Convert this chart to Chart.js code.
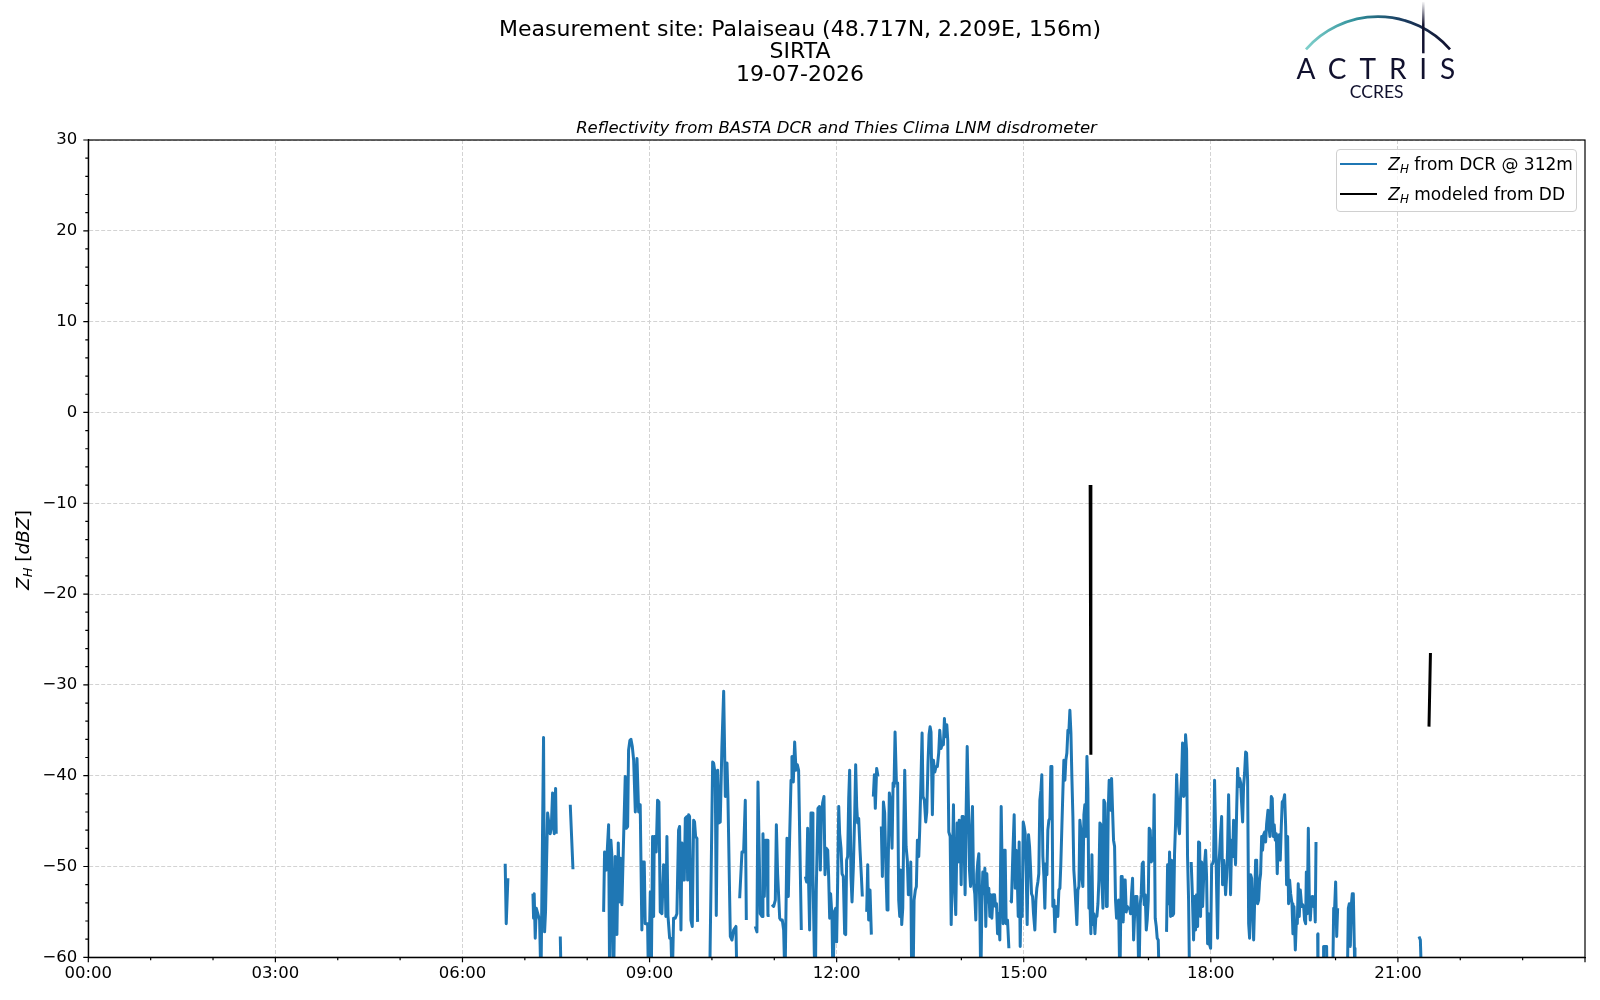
<!DOCTYPE html>
<html>
<head>
<meta charset="utf-8">
<script src="https://cdn.jsdelivr.net/npm/chart.js@4.4.1/dist/chart.umd.min.js"></script>
<style>
    html, body { margin: 0; padding: 0; background: #fff; }
    #page { position: relative; width: 1600px; height: 1000px; overflow: hidden; font-family: 'DejaVu Sans', sans-serif; color: #000; }
    #chart { position: absolute; left: 0; top: 0; }
    .abs { position: absolute; white-space: nowrap; }
    .suptitle { left: 0; width: 1600px; top: 17.7px; text-align: center; font-size: 22px; line-height: 22.7px; }
    .subtitle { left: 0; width: 1673px; top: 117.6px; text-align: center; font-size: 16.5px; line-height: 20px; font-style: italic; }
    .legend { box-sizing: border-box; left: 1336px; top: 149px; width: 241px; height: 63px; border: 1px solid #d0d0d0; border-radius: 4px; background: rgba(255,255,255,0.8); }
    .legend .swatch { position: absolute; left: 3px; width: 36.7px; height: 2.8px; }
    .legend .label { position: absolute; left: 51.3px; font-size: 17px; line-height: 20px; }
    .mi { font-style: italic; }
    .sub { font-style: italic; font-size: 0.7em; position: relative; top: 0.25em; }
    .ylabel { left: -76.5px; top: 539px; width: 200px; text-align: center; font-size: 18.5px; line-height: 20px; transform: rotate(-90deg); }
    .actris { left: 1296.5px; top: 54px; font-family: Lato, 'DejaVu Sans', sans-serif; font-size: 28px; line-height: 28px; letter-spacing: 12.9px; color: #11112e; }
    .ccres { left: 1326.7px; width: 100px; top: 82px; text-align: center; font-family: Lato, 'DejaVu Sans', sans-serif; font-size: 17.5px; line-height: 20px; color: #11112e; }
</style>
</head>
<body>
<div id="page">
    <canvas id="chart" width="1600" height="1000"></canvas>

    <div class="abs suptitle">Measurement site: Palaiseau (48.717N, 2.209E, 156m)<br>SIRTA<br>19-07-2026</div>
    <div class="abs subtitle">Reflectivity from BASTA DCR and Thies Clima LNM disdrometer</div>
    <div class="abs ylabel"><span class="mi">Z</span><span class="sub">H</span> [<span class="mi">dBZ</span>]</div>

    <div class="abs legend">
        <div class="swatch" style="top:12.6px; background:#1f77b4;"></div>
        <div class="label" style="top:4.3px;"><span class="mi">Z</span><span class="sub">H</span> from DCR @ 312m</div>
        <div class="swatch" style="top:42.6px; background:#000;"></div>
        <div class="label" style="top:34.4px;"><span class="mi">Z</span><span class="sub">H</span> modeled from DD</div>
    </div>

    <svg class="abs" style="left:0; top:0;" width="1600" height="110">
        <defs>
            <linearGradient id="arcGrad" x1="1306" y1="0" x2="1450" y2="0" gradientUnits="userSpaceOnUse">
                <stop offset="0" stop-color="#7fd0cb"/>
                <stop offset="0.35" stop-color="#2f8f9a"/>
                <stop offset="0.65" stop-color="#1b3f63"/>
                <stop offset="1" stop-color="#12122f"/>
            </linearGradient>
            <linearGradient id="barGrad" x1="0" y1="1" x2="0" y2="54" gradientUnits="userSpaceOnUse">
                <stop offset="0" stop-color="#ffffff"/>
                <stop offset="0.45" stop-color="#12122f"/>
                <stop offset="1" stop-color="#12122f"/>
            </linearGradient>
        </defs>
        <path d="M 1306 49.3 A 95.8 95.8 0 0 1 1450 49.3" fill="none" stroke="url(#arcGrad)" stroke-width="2.7"/>
        <line x1="1423.3" y1="1.7" x2="1423.3" y2="53.3" stroke="url(#barGrad)" stroke-width="2.5"/>
    </svg>
    <div class="abs actris">ACTRIS</div>
    <div class="abs ccres">CCRES</div>
</div>

<script>
// ===== Data (time in minutes since 00:00 UTC, reflectivity in dBZ) =====
// null marks a gap in the record

const xTickMinutes = [0, 180, 360, 540, 720, 900, 1080, 1260];
const yTickValues = [-60, -50, -40, -30, -20, -10, 0, 10, 20, 30];

// Z_H from BASTA DCR @ 312 m
const dcrSeries = [
    [401.1, -49.7], [402.1, -56.3], [403.7, -51.3], null,
    [427.8, -53.0], [428.4, -55.7], [429.0, -53.0], [430.0, -57.9], [431.0, -54.6], [434.2, -55.9], [435.5, -63],
    [438.0, -35.8], [439.0, -57.2], [439.9, -55.0], [441.9, -44.1], [443.5, -45.6], [444.4, -46.4], [445.4, -45.8],
    [446.7, -41.9], [448.3, -46.4], [449.6, -41.4], [450.2, -46.4], null,
    [454.1, -57.7], [455.0, -63], null,
    [463.7, -43.2], [466.3, -50.3], null,
    [495.8, -55.0], [496.7, -48.4], [498.3, -50.4], [500.6, -45.4], [501.6, -63], [502.8, -47.1], [503.8, -48.9],
    [505.4, -63], [507.0, -48.9], [508.6, -57.5], [509.9, -47.4], [511.2, -53.9], [512.1, -49.1], [513.4, -54.2],
    [514.4, -49.7], [515.4, -45.2], [516.6, -40.1], [517.6, -45.8], [518.9, -45.6], [519.8, -37.2], [521.1, -36.1],
    [522.1, -36.0], [523.4, -36.8], [524.7, -38.3], [526.3, -44.0], [527.9, -38.1], [529.5, -44.0], [531.0, -43.2],
    [532.6, -57.0], [533.6, -49.5], [534.9, -49.5], [535.8, -56.3], [538.1, -56.3], [539.0, -63], [540.7, -52.8],
    [541.6, -63], [542.9, -46.7], [543.9, -55.5], [544.5, -46.7], [545.8, -46.7], [546.4, -48.4], [547.7, -42.7],
    [549.0, -42.9], [550.3, -55.0], [551.9, -55.2], [553.5, -49.8], [554.8, -50.0], [555.7, -55.5], [556.7, -46.7],
    [557.7, -55.4], [559.3, -57.9], [560.6, -57.9], [561.8, -63], [563.1, -55.7], [564.7, -55.7], [566.3, -55.2],
    [567.9, -46.0], [568.9, -45.6], [570.2, -57.0], [571.1, -47.4], [572.1, -51.5], [573.4, -51.5], [574.4, -44.7],
    [576.0, -44.5], [576.6, -51.5], [577.6, -44.3], [578.5, -44.5], [579.8, -55.9], [581.1, -56.6], [582.4, -44.9],
    [583.3, -45.1], [584.3, -46.7], [585.6, -46.9], [586.2, -56.1], null,
    [597.8, -63], [600.7, -38.5], [601.6, -38.6], [603.2, -39.9], [604.2, -55.4], [605.5, -39.4], [606.8, -45.2],
    [608.0, -45.1], [609.6, -36.8], [611.3, -30.7], [612.9, -42.3], [614.5, -38.6], [615.4, -42.3], [617.7, -57.7],
    [619.3, -58.1], [620.9, -57.0], [623.1, -56.6], [624.1, -63], null,
    [626.7, -53.5], [628.9, -48.4], [630.5, -48.4], [632.1, -42.7], [633.1, -55.9], null,
    [641.7, -56.6], [643.3, -57.2], [644.3, -40.7], [646.5, -55.2], [648.2, -55.5], [649.1, -46.4], [650.4, -53.3],
    [651.7, -47.1], [653.0, -47.1], [653.9, -55.4], [655.5, -55.4], null,
    [657.8, -54.2], [659.4, -54.4], [661.0, -53.7], [662.0, -45.4], [663.2, -50.8], [665.2, -55.7], [666.4, -55.9],
    [667.7, -55.9], [669.0, -57.0], [670.3, -63], [672.2, -46.9], [673.5, -53.3], [674.8, -46.7], [676.1, -40.5],
    [677.0, -37.9], [678.3, -40.7], [679.6, -36.3], [680.9, -39.4], [682.2, -38.8], [683.4, -39.4], [684.7, -48.2],
    [686.0, -57.0], null,
    [689.9, -51.1], [691.1, -51.7], [692.1, -45.8], [693.1, -52.2], [694.0, -57.0], [695.3, -44.1], [696.3, -44.1],
    [697.2, -50.8], [698.5, -59.6], [699.5, -63], [700.4, -52.6], [702.0, -43.6], [703.3, -43.4], [704.3, -50.4],
    [705.3, -44.5], [706.5, -43.0], [707.8, -42.3], [708.8, -50.9], [710.1, -48.0], [711.4, -48.2], [712.3, -51.1],
    [713.3, -55.7], [714.2, -53.0], [715.5, -55.5], [716.5, -63], [717.8, -55.0], [719.1, -54.6], [720.0, -58.3],
    [721.0, -51.5], [722.0, -43.4], [722.9, -46.4], [724.2, -48.0], [725.2, -50.8], [726.4, -51.1], [727.7, -57.4],
    [728.7, -57.5], [729.6, -49.3], [730.6, -48.9], [731.6, -42.5], [732.5, -39.4], [733.8, -51.1], [734.8, -53.9],
    [736.1, -50.0], [737.4, -44.1], [738.3, -38.8], [739.3, -43.4], [740.2, -45.2], [741.2, -44.7], [742.5, -48.2],
    [743.8, -51.1], [744.7, -53.3], null,
    [748.9, -55.0], [749.9, -49.8], [750.8, -55.9], [752.1, -52.6], [753.4, -57.5], null,
    [755.3, -42.3], [756.3, -39.9], [757.2, -43.6], [758.5, -39.2], [759.8, -40.1], null,
    [763.0, -45.6], [764.0, -51.1], [765.0, -42.9], [766.2, -44.1], [767.5, -50.8], [768.5, -54.8], [769.4, -51.1],
    [770.7, -41.9], [772.0, -43.0], [773.3, -48.0], [774.3, -40.8], [775.2, -41.2], [776.2, -35.2], [777.5, -40.8],
    [778.7, -40.8], [779.7, -53.7], [780.7, -55.5], [781.6, -50.4], [782.6, -56.4], [783.6, -54.6], [784.5, -46.4],
    [785.5, -39.4], [786.8, -47.8], [788.0, -49.3], [789.0, -53.1], [790.3, -53.0], [791.3, -49.5], [792.2, -63],
    [793.5, -63], [794.5, -53.7], [795.7, -52.6], [796.7, -52.2], [797.7, -47.1], [799.0, -48.9], [799.9, -46.0],
    [801.2, -40.1], [802.2, -35.3], [803.1, -42.3], [804.4, -42.7], [805.7, -45.1], [806.7, -44.0], [807.9, -38.6],
    [808.9, -35.5], [809.9, -34.6], [810.8, -35.2], [812.1, -44.3], [813.1, -38.3], [814.4, -39.6], [815.6, -39.0],
    [816.9, -39.0], [818.2, -37.5], [819.2, -35.0], [820.5, -37.0], [821.7, -36.4], [822.7, -36.6], [823.7, -33.7],
    [824.6, -35.7], [826.0, -34.4], [826.9, -36.1], [827.9, -46.2], [829.2, -46.7], [830.2, -56.4], [831.4, -49.3],
    [832.4, -43.2], [833.4, -52.2], [834.6, -55.3], [835.9, -45.2], [836.9, -49.5], [837.9, -44.9], [838.8, -46.0],
    [839.8, -52.0], [840.7, -44.5], [841.7, -44.5], [842.7, -47.8], [843.6, -53.1], [844.6, -43.8], [845.6, -36.8],
    [846.8, -43.4], [847.8, -50.4], [848.8, -52.2], [849.7, -46.2], [850.7, -43.4], [851.7, -51.9], [852.9, -53.0],
    [853.9, -55.9], [854.9, -50.8], [855.8, -49.5], [856.8, -48.6], [857.8, -55.2], [858.7, -63], [859.7, -54.2],
    [860.6, -50.6], [861.6, -53.0], [862.6, -50.2], [863.5, -56.6], [864.5, -50.8], [865.5, -53.9], [866.4, -52.4],
    [867.4, -55.5], [868.3, -53.1], [869.3, -55.7], [870.6, -53.1], [871.9, -53.1], [872.8, -54.4], [873.8, -54.1],
    [874.8, -57.4], [875.7, -55.2], [877.0, -58.1], [878.3, -43.4], [879.3, -50.8], [880.2, -56.3], [881.2, -48.2],
    [882.1, -48.2], [883.1, -56.3], [884.4, -55.9], [885.7, -59.0], null,
    [887.3, -53.7], [888.2, -53.9], [889.5, -48.6], [890.8, -44.3], [891.8, -52.4], [892.7, -48.2], [893.7, -50.8],
    [894.7, -55.5], [895.6, -47.3], [896.6, -58.8], [897.5, -51.5], [898.5, -55.5], [899.5, -45.1], [900.4, -45.6],
    [901.4, -46.4], [902.4, -50.8], [903.3, -56.4], [904.6, -46.5], [905.6, -47.8], [906.5, -50.0], [907.5, -53.0],
    [908.5, -53.3], [909.4, -55.2], [910.7, -57.0], [911.7, -53.7], [912.6, -52.4], [913.6, -51.7], [914.5, -50.8],
    [915.5, -42.7], [916.5, -41.6], [917.4, -39.9], [918.4, -48.9], [919.4, -51.1], [920.3, -54.6], [921.3, -49.7],
    [922.3, -50.9], [923.2, -46.0], [924.2, -44.9], [925.1, -44.7], [926.1, -39.0], [927.1, -39.0], [928.0, -54.4],
    [929.0, -53.7], [930.0, -57.2], [930.9, -54.4], [931.9, -54.6], [932.8, -55.5], [933.8, -52.6], [934.8, -52.4],
    [935.7, -49.7], [936.7, -45.6], [937.7, -41.6], [938.6, -38.3], [939.6, -40.5], [940.5, -38.3], [941.5, -37.5],
    [942.5, -35.0], [943.4, -35.2], [944.4, -32.8], [945.4, -35.3], [946.3, -40.1], [947.3, -44.5], [948.2, -50.4],
    [949.2, -52.2], [950.2, -54.4], [951.1, -56.4], [952.1, -52.6], [953.1, -52.2], [954.0, -44.9], [955.0, -46.0],
    [955.9, -51.3], [956.9, -52.2], [957.9, -44.3], [958.8, -43.2], [959.8, -46.7], [960.8, -37.9], [961.7, -41.4],
    [962.7, -54.6], [963.6, -53.5], [964.6, -57.4], [965.6, -48.7], [966.5, -56.4], [967.5, -55.2], [968.5, -57.4],
    [969.4, -55.5], [970.4, -55.5], [971.4, -54.1], [972.3, -51.5], [973.3, -45.2], [974.3, -45.4], [975.2, -51.7],
    [976.2, -54.6], [977.1, -42.7], [978.1, -43.0], [979.5, -54.4], [980.3, -54.4], [981.3, -43.8], [982.2, -40.5],
    [983.5, -43.8], [984.5, -40.3], [985.4, -43.6], [986.4, -47.1], [987.4, -47.8], [988.3, -53.7], [989.3, -55.7],
    [990.3, -53.9], [991.2, -53.7], [992.5, -63], [993.8, -51.1], [994.7, -51.1], [995.7, -56.1], [996.7, -51.5],
    [997.6, -51.5], [998.6, -55.0], [999.6, -54.4], [1000.5, -54.6], [1001.8, -54.6], [1002.8, -55.2], [1003.7, -53.0],
    [1004.7, -51.3], [1005.7, -58.1], [1006.6, -55.5], [1007.6, -53.3], [1008.9, -53.3], [1009.8, -56.3], [1010.8, -63],
    [1012.1, -54.1], [1013.0, -53.1], [1014.0, -49.7], [1015.0, -49.5], [1015.9, -54.2], [1016.9, -53.1], [1017.9, -57.0],
    [1018.8, -55.9], [1019.8, -53.7], [1020.7, -45.8], [1021.7, -46.0], [1022.7, -49.5], [1023.6, -46.9], [1024.6, -49.3],
    [1025.5, -42.1], [1026.5, -55.7], [1027.5, -56.6], [1028.4, -57.9], [1029.4, -58.1], [1030.4, -63], null,
    [1037.4, -57.2], [1038.4, -49.8], [1039.4, -54.1], [1040.3, -48.4], [1041.3, -55.5], [1042.2, -49.3], [1043.2, -55.4],
    [1044.2, -55.2], [1045.1, -48.6], [1046.1, -45.2], [1047.1, -39.9], [1048.0, -42.7], [1049.0, -45.6], [1049.9, -46.4],
    [1050.9, -42.3], [1051.9, -40.1], [1052.8, -36.4], [1053.8, -42.3], [1054.8, -42.1], [1055.7, -35.5], [1056.7, -37.2],
    [1057.6, -48.9], [1058.6, -53.7], [1059.6, -63], null,
    [1061.1, -49.5], [1062.1, -52.6], [1063.4, -58.1], [1064.4, -53.3], [1065.3, -57.0], [1066.3, -53.1], [1067.3, -56.6],
    [1068.2, -47.3], [1069.2, -47.4], [1070.1, -55.5], [1071.1, -49.5], [1072.1, -54.4], [1073.0, -51.5], [1074.0, -49.7],
    [1075.0, -48.2], [1075.9, -51.1], [1076.9, -58.5], [1077.9, -55.2], [1078.8, -58.6], [1079.8, -59.0], [1080.8, -49.8],
    [1081.7, -49.7], [1082.7, -49.3], [1083.6, -40.5], [1084.6, -46.2], [1085.6, -52.6], [1086.5, -57.9], [1087.5, -50.0],
    [1088.4, -48.6], [1089.4, -46.4], [1090.4, -44.5], [1091.3, -52.0], [1092.3, -49.3], [1093.3, -50.8], [1094.2, -53.1],
    [1095.2, -51.1], [1096.1, -48.2], [1097.1, -42.1], [1098.1, -48.0], [1099.0, -53.1], [1100.0, -47.1], [1101.0, -48.9],
    [1101.9, -44.9], [1102.9, -47.8], [1103.8, -49.8], [1104.8, -44.1], [1105.8, -39.2], [1106.7, -41.2], [1107.7, -40.3],
    [1108.7, -40.8], [1109.6, -43.0], [1110.6, -45.1], [1111.5, -41.2], [1112.5, -39.7], [1113.5, -37.4], [1114.4, -37.5],
    [1115.4, -40.5], [1116.4, -56.3], [1117.3, -57.9], [1118.3, -50.9], [1119.3, -51.3], [1120.2, -55.2], [1121.2, -58.1],
    [1122.1, -54.1], [1123.1, -49.3], [1124.1, -49.3], [1125.0, -54.1], [1126.0, -53.7], [1126.9, -51.7], [1127.9, -50.8],
    [1128.9, -46.7], [1129.8, -48.2], [1130.8, -46.5], [1131.8, -46.2], [1132.7, -47.3], [1133.7, -45.3], [1135.0, -43.8],
    [1135.9, -45.6], [1136.9, -46.7], [1138.2, -42.3], [1139.1, -42.5], [1140.1, -46.7], [1141.0, -45.4], [1142.0, -47.1],
    [1143.0, -46.4], [1143.9, -50.8], [1144.9, -47.1], [1145.9, -46.5], [1146.8, -49.3], [1147.8, -45.6], [1148.7, -42.9],
    [1150.0, -42.7], [1151.0, -42.1], [1152.0, -45.6], [1152.9, -52.0], [1153.9, -46.7], [1154.8, -54.1], [1155.8, -51.5],
    [1156.8, -53.0], [1158.1, -54.1], [1159.0, -57.4], [1160.0, -54.4], [1161.3, -59.2], [1162.2, -56.3], [1163.2, -56.3],
    [1164.1, -51.9], [1165.1, -55.5], [1166.1, -52.6], [1167.4, -54.4], [1168.3, -54.2], [1169.3, -54.4], [1170.2, -55.9],
    [1171.2, -56.3], [1171.9, -50.6], [1172.8, -55.2], [1173.8, -45.8], [1174.7, -53.0], [1175.7, -55.9], [1176.7, -53.7],
    [1177.6, -53.3], [1178.6, -54.4], [1179.6, -53.3], [1180.5, -56.1], [1181.2, -47.3], null,
    [1182.8, -57.4], [1183.1, -63], null,
    [1188.2, -63], [1188.5, -58.8], [1191.4, -58.8], [1191.8, -63], null,
    [1197.2, -63], [1198.2, -54.6], [1199.1, -54.6], [1200.1, -51.7], [1201.1, -57.7], [1202.0, -54.6], null,
    [1211.3, -63], [1212.3, -54.6], [1213.2, -54.1], [1214.2, -58.8], [1215.2, -54.2], [1216.1, -53.0], [1217.1, -53.0],
    [1218.1, -59.0], [1218.7, -63], null,
    [1280.3, -57.7], [1281.6, -58.1], [1282.9, -63]
];

// Z_H modeled from the disdrometer drop size distribution
const ddSeries = [
    [963.9, -8.0], [964.6, -37.7], null,
    [1289.9, -34.6], [1291.3, -26.5]
];

// ===== Helpers =====

function toPoints(series) {
    const points = [];
    let lastX = 0;
    series.forEach(p => {
        if (p === null) {
            points.push({ x: lastX + 0.05, y: null });
        } else {
            points.push({ x: p[0], y: p[1] });
            lastX = p[0];
        }
    });
    return points;
}

function formatHour(minutes) {
    const h = Math.floor(minutes / 60);
    const m = Math.round(minutes % 60);
    return String(h).padStart(2, '0') + ':' + String(m).padStart(2, '0');
}

function formatDbz(v) {
    return v < 0 ? '\u2212' + Math.abs(v) : String(v);
}

// Frame + major/minor tick marks, matplotlib style
const axesFramePlugin = {
    id: 'axesFrame',
    afterDraw(chart) {
        const { ctx, chartArea: a, scales } = chart;
        ctx.save();
        ctx.strokeStyle = '#000';
        ctx.lineWidth = 1.2;
        ctx.beginPath();
        for (let v = 0; v <= 1440; v += 60) {
            const px = scales.x.getPixelForValue(v);
            const len = xTickMinutes.includes(v) || v === 1440 ? 5 : 3;
            ctx.moveTo(px, a.bottom);
            ctx.lineTo(px, a.bottom + len);
        }
        for (let v = -60; v <= 30; v += 2) {
            const py = scales.y.getPixelForValue(v);
            const len = yTickValues.includes(v) ? 5 : 3;
            ctx.moveTo(a.left, py);
            ctx.lineTo(a.left - len, py);
        }
        ctx.stroke();
        ctx.strokeRect(a.left, a.top, a.right - a.left, a.bottom - a.top);
        ctx.restore();
    }
};

// ===== Chart =====

Chart.defaults.font.family = "'DejaVu Sans', sans-serif";
Chart.defaults.color = '#000';

const gridColor = '#d3d3d3';

new Chart(document.getElementById('chart').getContext('2d'), {
    type: 'line',
    data: {
        datasets: [
            {
                label: 'ZH from DCR @ 312m',
                data: toPoints(dcrSeries),
                borderColor: '#1f77b4',
                borderWidth: 3,
                borderJoinStyle: 'round',
                pointRadius: 0,
                tension: 0,
                spanGaps: false,
                clip: 0
            },
            {
                label: 'ZH modeled from DD',
                data: toPoints(ddSeries),
                borderColor: '#000',
                borderWidth: 3,
                pointRadius: 0,
                tension: 0,
                spanGaps: false,
                clip: 0
            }
        ]
    },
    options: {
        responsive: false,
        animation: false,
        layout: { padding: { left: 0, top: 140, right: 15, bottom: 12.7 } },
        plugins: {
            legend: { display: false },
            title: { display: false },
            tooltip: { enabled: false }
        },
        scales: {
            x: {
                type: 'linear',
                min: 0,
                max: 1440,
                afterFit: s => { s.height = 30; },
                ticks: {
                    stepSize: 60,
                    autoSkip: false,
                    maxRotation: 0,
                    padding: 7,
                    font: { size: 16.5 },
                    callback: v => (xTickMinutes.includes(v) ? formatHour(v) : '')
                },
                grid: {
                    drawTicks: false,
                    color: c => (c.tick && xTickMinutes.includes(c.tick.value) ? gridColor : 'rgba(0,0,0,0)'),
                    lineWidth: 1
                },
                border: { display: true, color: '#000', width: 1.2, dash: [4, 2] }
            },
            y: {
                type: 'linear',
                min: -60,
                max: 30,
                afterFit: s => { s.width = 88.3; },
                ticks: {
                    stepSize: 2,
                    autoSkip: false,
                    padding: 11,
                    font: { size: 16.5 },
                    callback: v => (yTickValues.includes(v) ? formatDbz(v) : '')
                },
                grid: {
                    drawTicks: false,
                    color: c => (c.tick && yTickValues.includes(c.tick.value) ? gridColor : 'rgba(0,0,0,0)'),
                    lineWidth: 1
                },
                border: { display: true, color: '#000', width: 1.2, dash: [4, 2] }
            }
        }
    },
    plugins: [axesFramePlugin]
});
</script>
</body>
</html>
